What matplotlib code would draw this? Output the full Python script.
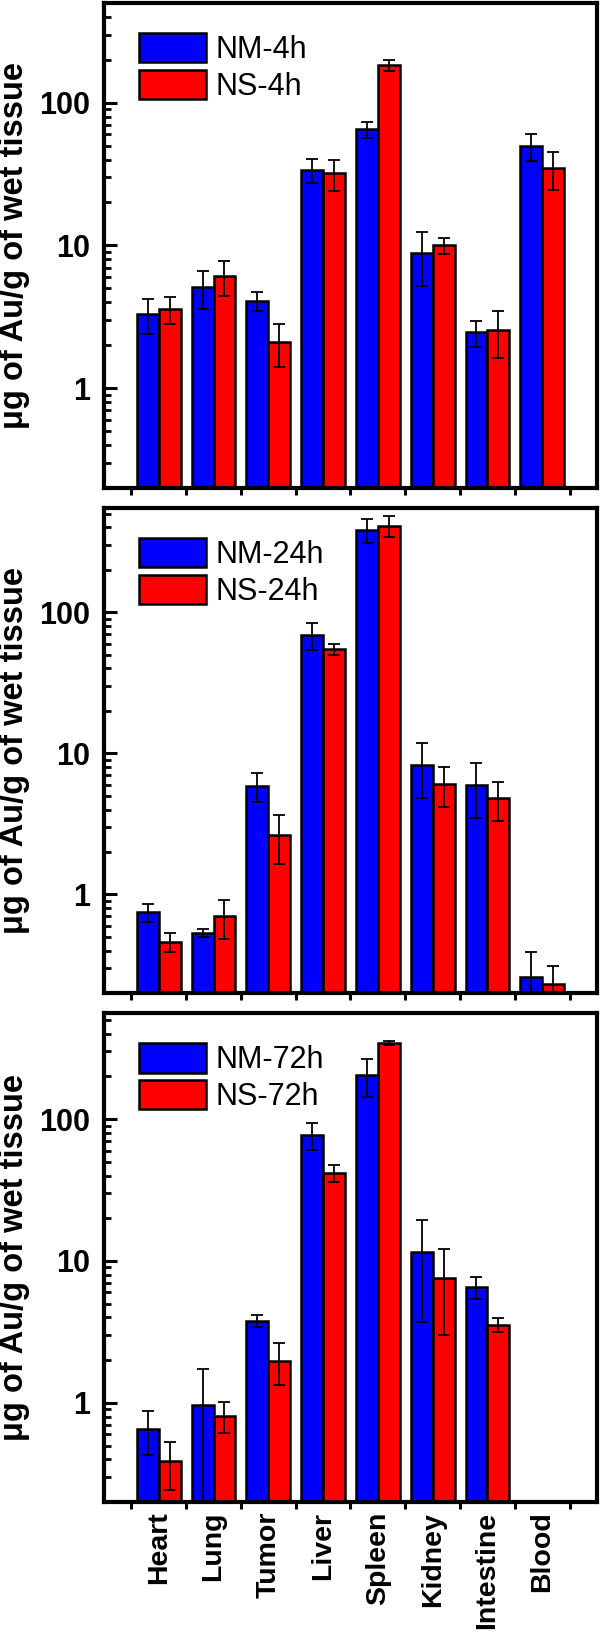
import numpy as np
import matplotlib
matplotlib.use("Agg")
from matplotlib import pyplot as plt
from matplotlib.ticker import FixedLocator, LogLocator, NullFormatter

plt.rcParams['font.family'] = ['Liberation Sans', 'DejaVu Sans']

organs = ["Heart", "Lung", "Tumor", "Liver", "Spleen", "Kidney", "Intestine", "Blood"]

# 4h
nm_4h = [3.3, 5.1, 4.1, 34, 65, 8.8, 2.46, 50]
nm_4h_err = [0.9, 1.5, 0.6, 6.6, 8, 3.6, 0.52, 10.7]
ns_4h = [3.6, 6.1, 2.12, 32, 184, 10.0, 2.55, 35]
ns_4h_err = [0.77, 1.65, 0.72, 8, 16, 1.3, 0.92, 10.4]

# 24h
nm_24h = [0.75, 0.53, 5.9, 69, 385, 8.3, 6.0, 0.258]
nm_24h_err = [0.11, 0.035, 1.4, 15, 77, 3.5, 2.5, 0.13]
ns_24h = [0.46, 0.70, 2.64, 55, 412, 6.05, 4.8, 0.231]
ns_24h_err = [0.07, 0.22, 1.0, 5, 70, 1.9, 1.5, 0.08]

# 72h (no blood values)
nm_72h = [0.65, 0.96, 3.8, 77, 205, 11.5, 6.5, np.nan]
nm_72h_err = [0.22, 0.76, 0.37, 16.5, 62, 7.8, 1.15, np.nan]
ns_72h = [0.387, 0.81, 1.98, 41.8, 345, 7.6, 3.56, np.nan]
ns_72h_err = [0.145, 0.2, 0.64, 5.6, 12, 4.6, 0.4, np.nan]

panels = [
    (nm_4h, nm_4h_err, ns_4h, ns_4h_err, "NM-4h", "NS-4h", 500),
    (nm_24h, nm_24h_err, ns_24h, ns_24h_err, "NM-24h", "NS-24h", 550),
    (nm_72h, nm_72h_err, ns_72h, ns_72h_err, "NM-72h", "NS-72h", 560),
]

# axes boxes in figure fraction (left, bottom, width, height)
boxes = [
    (0.1733, 0.7019, 0.8217, 0.2963),
    (0.1733, 0.3934, 0.8217, 0.2963),
    (0.1733, 0.0825, 0.8217, 0.2987),
]

fig = plt.figure(figsize=(6, 16.37), dpi=100)
x = np.arange(1, len(organs) + 1)
w = 0.4

for i, (a, ae, b, be, la, lb, ymax) in enumerate(panels):
    ax = fig.add_axes(boxes[i])
    ax.set_yscale('log')
    h1 = ax.bar(x - w / 2, a, w, color='#0000ff', edgecolor='k', linewidth=1.8, label=la, zorder=2)
    h2 = ax.bar(x + w / 2, b, w, color='#ff0000', edgecolor='k', linewidth=1.8, label=lb, zorder=2)
    ax.errorbar(x - w / 2, a, yerr=ae, fmt='none', ecolor='k', elinewidth=1.3,
                capsize=4, capthick=1.3, zorder=3)
    ax.errorbar(x + w / 2, b, yerr=be, fmt='none', ecolor='k', elinewidth=1.3,
                capsize=4, capthick=1.3, zorder=3)
    ax.set_xlim(0, 9)
    ax.set_ylim(0.2, ymax)

    # y ticks
    ax.yaxis.set_major_locator(FixedLocator([1, 10, 100]))
    ax.set_yticklabels(["1", "10", "100"])
    ax.yaxis.set_minor_locator(LogLocator(base=10, subs=np.arange(2, 10)))
    ax.yaxis.set_minor_formatter(NullFormatter())
    ax.tick_params(axis='y', which='major', direction='in', length=9, width=2.2,
                   labelsize=22, pad=10)
    ax.tick_params(axis='y', which='minor', direction='in', length=5, width=2)
    for t in ax.get_yticklabels():
        t.set_fontweight('bold')

    # x ticks: marks between groups, labels under groups
    ax.set_xticks(x)
    ax.xaxis.set_minor_locator(FixedLocator(np.arange(0.5, 9, 1)))
    ax.tick_params(axis='x', which='major', length=0, pad=7)
    ax.tick_params(axis='x', which='minor', direction='out', length=5, width=2.2)
    if i == 2:
        ax.set_xticklabels(organs, rotation=90, fontsize=20.5, fontweight='bold')
    else:
        ax.set_xticklabels([])

    for s in ax.spines.values():
        s.set_linewidth(3)

    ax.set_ylabel("μg of Au/g of wet tissue", fontsize=23.5, fontweight='bold')
    ax.yaxis.set_label_coords(-0.15, 0.5)

    ax.legend(handles=[h1, h2], loc='upper left', bbox_to_anchor=(0.071, 0.938),
              frameon=False, fontsize=22, borderpad=0, borderaxespad=0,
              handlelength=2.2, handleheight=1.1, labelspacing=0.15, handletextpad=0.3)

fig.savefig("out.png", dpi=100)
